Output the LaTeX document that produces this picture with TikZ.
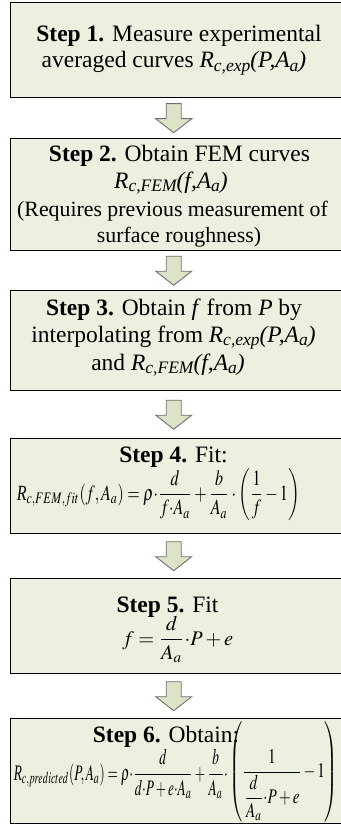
\documentclass[tikz,border=0pt]{standalone}
\usepackage{mathptmx}
\usepackage{fontspec}
\setmainfont{Liberation Serif}
\usepackage{graphicx}
\usetikzlibrary{calc}
\definecolor{boxfill}{HTML}{EBF1DE}
\definecolor{arrowfill}{HTML}{DCE4C8}
\definecolor{arrowdraw}{HTML}{6F6F6F}
\newcommand{\sbs}[1]{\raisebox{-3.5pt}{\fontsize{17.5}{17.5}\selectfont #1}}
\newcommand{\Rexp}{\textit{R\sbs{c,exp}(P,A\sbs{a})}}
\newcommand{\Rfem}{\textit{R\sbs{c,FEM}(f,A\sbs{a})}}
\newcommand{\mR}{\mbox{\itshape R}}
\newcommand{\flowarrow}[2]{%
  \draw[blockarrow] let \p1=(#1.south), \p2=(#2.north),
    \n1={(\y1+\y2)/2} in
    ($(\x1,\n1)+(-11.5pt,14.5pt)$) -- ++(15pt,0pt) -- ++(0pt,-15pt)
    -- ++(10.5pt,0pt) -- ($(\x1,\n1)+(-4pt,-14.5pt)$)
    -- ($(\x1,\n1)+(-22pt,-0.5pt)$) -- ++(10.5pt,0pt) -- cycle;}
\tikzset{
  stepbox/.style={draw=black, line width=1.4pt, fill=boxfill, rectangle,
    minimum width=334pt, inner sep=0pt, anchor=north west},
  steptext/.style={inner sep=0pt, anchor=base,
    font=\fontsize{23.5}{26.5}\selectfont},
  smalltext/.style={inner sep=0pt, anchor=base,
    font=\fontsize{21.8}{24}\selectfont},
  eqnode/.style={inner sep=0pt},
  blockarrow/.style={draw=arrowdraw, fill=arrowfill, line width=0.9pt, line join=miter}
}
\begin{document}
\begin{tikzpicture}[x=1pt,y=-1pt]
\useasboundingbox (0,0) rectangle (340,829);
% boxes
\node[stepbox, minimum height=95pt]  (b1) at (10,2)   {};
\node[stepbox, minimum height=112pt] (b2) at (10,138) {};
\node[stepbox, minimum height=100pt] (b3) at (10,290) {};
\node[stepbox, minimum height=95pt]  (b4) at (10,438) {};
\node[stepbox, minimum height=95pt]  (b5) at (10,578) {};
\node[stepbox, minimum height=105pt] (b6) at (10,718) {};
% arrows
\flowarrow{b1}{b2}
\flowarrow{b2}{b3}
\flowarrow{b3}{b4}
\flowarrow{b4}{b5}
\flowarrow{b5}{b6}
% step 1
\node[steptext] (t1a) at (179,42) {\textbf{Step 1.} Measure experimental};
\node[steptext] (t1b) at (174,68) {averaged curves \Rexp};
% step 2
\node[steptext] (t2a) at (179.5,162) {\textbf{Step 2.} Obtain FEM curves};
\node[steptext] (t2b) at (171,188) {\Rfem};
\node[smalltext] (t2c) at (172.5,216) {(Requires previous measurement of};
\node[smalltext] (t2d) at (179,242) {surface roughness)};
% step 3
\node[steptext] (t3a) at (174,315) {\textbf{Step 3.} Obtain \textit{f} from \textit{P} by};
\node[steptext] (t3b) at (173.5,342) {interpolating from \Rexp};
\node[steptext] (t3c) at (168,370) {and \Rfem};
% step 4
\node[steptext] (t4) at (173.5,462) {\textbf{Step 4.} Fit:};
\node[eqnode, anchor=base east] (e4) at (300,500) {\resizebox*{283pt}{52pt}{$\displaystyle \mR_{c,FEM,fit}(f,A_a)=\rho{\cdot}\frac{d}{f{\cdot}A_a}+\frac{b}{A_a}\cdot\left(\frac{1}{f}-1\right)$}};
% step 5
\node[steptext] (t5) at (167.5,612) {\textbf{Step 5.} Fit};
\node[eqnode, anchor=base west] (e5) at (122,645) {\resizebox*{111pt}{46pt}{$\displaystyle f=\frac{d}{A_a}{\cdot}P+e$}};
% step 6
\node[steptext] (t6) at (166,742) {\textbf{Step 6.} Obtain:};
\node[eqnode, anchor=base east] (e6a) at (228,780) {\resizebox*{214pt}{49pt}{$\displaystyle \mR_{c,predicted}(P,A_a)=\rho{\cdot}\frac{d}{d{\cdot}P+e{\cdot}A_a}+\frac{b}{A_a}\cdot$}};
\node[eqnode, anchor=west] (e6b) at (229,772) {\resizebox*{109pt}{100pt}{$\displaystyle\left(\frac{1}{{\displaystyle\frac{d}{A_a}}{\cdot}P+e}-1\right)$}};
\end{tikzpicture}
\end{document}
